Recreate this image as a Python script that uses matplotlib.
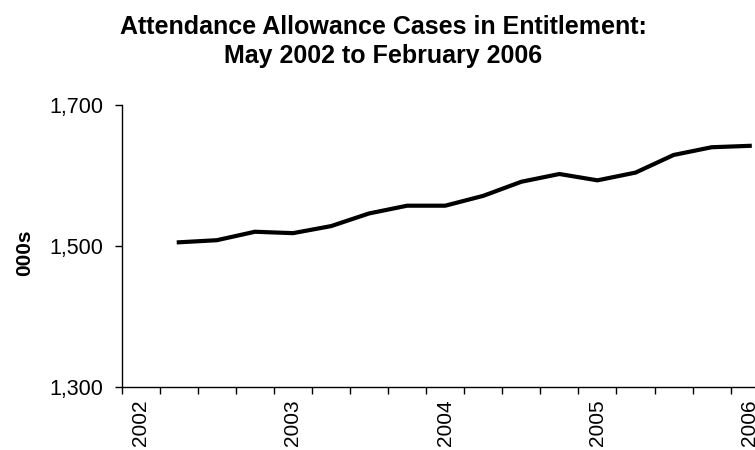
import matplotlib
matplotlib.use("Agg")
import matplotlib.pyplot as plt
import numpy as np

plt.rcParams['font.family'] = ['Liberation Sans', 'DejaVu Sans']

# quarterly categories, Feb 2002 has no value
quarters = ['Feb 2002', 'May 2002', 'Aug 2002', 'Nov 2002',
            'Feb 2003', 'May 2003', 'Aug 2003', 'Nov 2003',
            'Feb 2004', 'May 2004', 'Aug 2004', 'Nov 2004',
            'Feb 2005', 'May 2005', 'Aug 2005', 'Nov 2005',
            'Feb 2006']
cases = [np.nan, 1505, 1508, 1520, 1518, 1528, 1546, 1557, 1557,
         1571, 1591, 1602, 1593, 1604, 1629, 1640, 1642]
year_labels = ['2002', '2003', '2004', '2005', '2006']
y_ticks = [1300, 1500, 1700]

fig = plt.figure(figsize=(7.55, 4.5), dpi=100)
ax = fig.add_axes([0.1612, 0.1407, 0.857, 0.626])

x = np.arange(len(quarters)) + 0.5
ax.plot(x, cases, color='black', linewidth=3, solid_joinstyle='miter')

ax.set_xlim(0, len(quarters))
ax.set_ylim(1300, 1700)

# ticks between categories, year labels on every 4th category
ax.set_xticks(np.arange(len(quarters) + 1))
ax.set_xticklabels([])
ax.set_xticks(x[::4], minor=True)
ax.set_xticklabels(year_labels, minor=True, rotation=90, fontsize=15)
ax.tick_params(axis='x', which='minor', length=0, pad=9)
ax.tick_params(axis='x', which='major', length=5, width=1, direction='out')

ax.set_yticks(y_ticks)
ax.set_yticklabels([f'{v:,}' for v in y_ticks], fontsize=15.5)
ax.tick_params(axis='y', length=5, width=1, direction='out', pad=8)

ax.spines['top'].set_visible(False)
ax.spines['right'].set_visible(False)
ax.spines['left'].set_linewidth(1)
ax.spines['bottom'].set_linewidth(1)

ax.set_ylabel('000s', fontsize=15, fontweight='bold')
ax.yaxis.set_label_coords(-0.135, 0.475)

fig.text(0.508, 0.967, 'Attendance Allowance Cases in Entitlement:\nMay 2002 to February 2006',
         ha='center', va='top', fontsize=18, fontweight='bold', linespacing=1.25)

fig.savefig('out.png', dpi=100)
